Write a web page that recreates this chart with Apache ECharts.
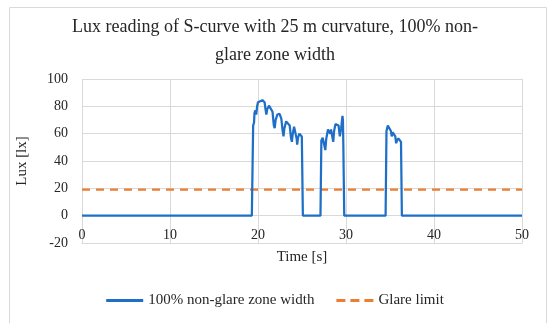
<!DOCTYPE html>
<html>
<head>
<meta charset="utf-8">
<script src="https://cdn.jsdelivr.net/npm/echarts@6/dist/echarts.min.js"></script>
<style>html,body{margin:0;padding:0;background:#fff}#c{width:550px;height:323px}</style>
</head>
<body>
<div id="c"></div>
<script>
var titleText = 'Lux reading of S-curve with 25 m curvature, 100% non-\nglare zone width';
var xAxisName = 'Time [s]';
var yAxisName = 'Lux [lx]';
var seriesNames = ['100% non-glare zone width', 'Glare limit'];

var luxTime = [0, 19.3, 19.42, 19.45, 19.55, 19.6, 19.7, 19.8, 19.9, 20.0, 20.15, 20.5, 20.75, 20.85, 20.95, 21.05, 21.25, 21.45, 21.65, 21.8, 21.9, 22.0, 22.2, 22.45, 22.65, 22.8, 22.9, 23.0, 23.2, 23.4, 23.6, 23.75, 23.85, 23.95, 24.1, 24.25, 24.4, 24.45, 24.55, 24.7, 24.85, 24.98, 25.1,
  27.1, 27.2, 27.35, 27.5, 27.65, 27.75, 27.95, 28.1, 28.2, 28.3, 28.45, 28.55, 28.65, 28.8, 29.0, 29.15, 29.3, 29.45, 29.6, 29.65, 29.7, 29.8,
  34.5, 34.6, 34.75, 34.95, 35.1, 35.2, 35.3, 35.45, 35.6, 35.7, 35.8, 35.95, 36.15, 36.25, 36.35, 50];
var luxValue = [0, 0, 0, 66, 68, 75, 77, 74, 80, 83, 84, 84.5, 83, 78, 74, 78, 80.5, 80, 76, 66, 64, 70, 74, 74.5, 71, 62, 58, 64, 69, 69.5, 66, 57, 54, 60, 65, 65, 56, 52, 57, 60, 59, 58, 0,
  0, 55, 57, 56, 48, 56, 63, 62, 60, 63, 62, 54, 62, 67, 68, 66, 58, 64, 73, 70, 50, 0,
  0, 62, 66, 65.5, 62, 58, 61, 61.5, 58, 53, 55, 56.5, 55.5, 54, 0, 0];
var glareTime = [0, 50];
var glareValue = [19, 19];

var xMin = 0, xMax = 50, xStep = 10;
var yMin = -20, yMax = 100, yStep = 20;

function zip(a, b) { return a.map(function (v, i) { return [v, b[i]]; }); }

var FONT = 'Liberation Serif';
var chart = echarts.init(document.getElementById('c'));
chart.setOption({
  animation: false,
  textStyle: { fontFamily: FONT },
  graphic: [{
    type: 'rect', left: 7, top: 5, shape: { width: 537, height: 317 },
    style: { fill: 'none', stroke: '#d9d9d9', lineWidth: 1 }, silent: true, z: -1
  }],
  title: {
    text: titleText, left: 'center', top: 8,
    textStyle: { fontFamily: FONT, fontSize: 18, fontWeight: 'normal', color: '#262626', lineHeight: 28 }
  },
  grid: { left: 82, right: 28, top: 79, bottom: 80, containLabel: false },
  legend: {
    bottom: 10, left: 'center', itemWidth: 37, itemHeight: 3, itemGap: 22,
    textStyle: { fontFamily: FONT, fontSize: 15, color: '#262626' },
    data: [
      { name: seriesNames[0], icon: 'path://M0,0H37V3H0Z' },
      { name: seriesNames[1], icon: 'path://M0,0H9V3H0Z M14,0H23V3H14Z M28,0H37V3H28Z' }
    ]
  },
  xAxis: {
    type: 'value', min: xMin, max: xMax, interval: xStep,
    name: xAxisName, nameLocation: 'middle', nameGap: 7,
    nameTextStyle: { fontFamily: FONT, fontSize: 15, color: '#262626', verticalAlign: 'top' },
    axisLine: { onZero: false, lineStyle: { color: '#d9d9d9' } },
    axisTick: { show: false },
    axisLabel: { margin: -15, fontFamily: FONT, fontSize: 14, color: '#262626' },
    splitLine: { show: true, lineStyle: { color: '#d9d9d9' } }
  },
  yAxis: {
    type: 'value', min: yMin, max: yMax, interval: yStep,
    name: yAxisName, nameLocation: 'middle', nameGap: 52,
    nameTextStyle: { fontFamily: FONT, fontSize: 15, color: '#262626' },
    axisLine: { show: false }, axisTick: { show: false },
    axisLabel: { margin: 14, fontFamily: FONT, fontSize: 14, color: '#262626' },
    splitLine: { show: true, lineStyle: { color: '#d9d9d9' } }
  },
  series: [
    {
      name: seriesNames[0], type: 'line', data: zip(luxTime, luxValue),
      showSymbol: false, symbol: 'none', z: 3,
      lineStyle: { color: '#1f6fc8', width: 2.25 }, itemStyle: { color: '#1f6fc8' }
    },
    {
      name: seriesNames[1], type: 'line', data: zip(glareTime, glareValue),
      showSymbol: false, symbol: 'none', z: 2,
      lineStyle: { color: '#ed7d31', width: 2.25, type: [8, 6] }, itemStyle: { color: '#ed7d31' }
    }
  ]
});
</script>
</body>
</html>
